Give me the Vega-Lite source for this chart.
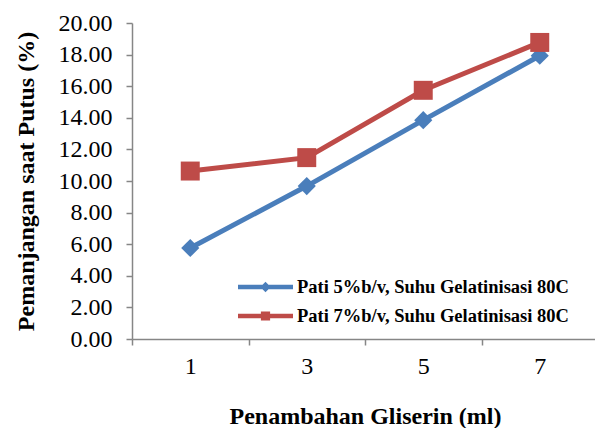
{
  "$schema": "https://vega.github.io/schema/vega-lite/v6.json",
  "autosize": "none",
  "padding": {"left": 132, "top": 23, "right": 0, "bottom": 89},
  "width": 466,
  "height": 316,
  "background": "white",
  "config": {
    "view": {"stroke": null},
    "font": "Liberation Serif, Times New Roman, serif",
    "axis": {
      "domainColor": "#868686",
      "tickColor": "#868686",
      "domainWidth": 1.5,
      "tickWidth": 1.5,
      "tickSize": 6,
      "grid": false,
      "labelColor": "#000000",
      "titleColor": "#000000"
    },
    "legend": {
      "labelFont": "Liberation Serif, Times New Roman, serif",
      "labelFontSize": 18.5,
      "labelFontWeight": "bold",
      "labelColor": "#000000",
      "labelLimit": 0,
      "symbolSize": 400,
      "symbolStrokeWidth": 0,
      "labelOffset": 21.5,
      "rowPadding": 9,
      "padding": 0
    }
  },
  "data": {
    "values": [
      {"ml": "1", "series": "Pati 5%b/v, Suhu Gelatinisasi 80C", "value": 5.76},
      {"ml": "3", "series": "Pati 5%b/v, Suhu Gelatinisasi 80C", "value": 9.68},
      {"ml": "5", "series": "Pati 5%b/v, Suhu Gelatinisasi 80C", "value": 13.85},
      {"ml": "7", "series": "Pati 5%b/v, Suhu Gelatinisasi 80C", "value": 17.93},
      {"ml": "1", "series": "Pati 7%b/v, Suhu Gelatinisasi 80C", "value": 10.63},
      {"ml": "3", "series": "Pati 7%b/v, Suhu Gelatinisasi 80C", "value": 11.48},
      {"ml": "5", "series": "Pati 7%b/v, Suhu Gelatinisasi 80C", "value": 15.74},
      {"ml": "7", "series": "Pati 7%b/v, Suhu Gelatinisasi 80C", "value": 18.77}
    ]
  },
  "encoding": {
    "x": {
      "field": "ml",
      "type": "ordinal",
      "scale": {"type": "band", "paddingInner": 0, "paddingOuter": 0},
      "axis": {
        "title": "Penambahan Gliserin (ml)",
        "labelAngle": 0,
        "tickBand": "extent",
        "labelFont": "Liberation Serif, Times New Roman, serif",
        "labelFontSize": 24,
        "titleFont": "Liberation Serif, Times New Roman, serif",
        "titleFontSize": 24,
        "titleFontWeight": "bold",
        "labelPadding": 9,
        "titlePadding": 26
      }
    },
    "y": {
      "field": "value",
      "type": "quantitative",
      "scale": {"domain": [0, 20], "nice": false},
      "axis": {
        "title": "Pemanjangan saat Putus (%)",
        "values": [0, 2, 4, 6, 8, 10, 12, 14, 16, 18, 20],
        "format": ".2f",
        "labelFont": "Liberation Serif, Times New Roman, serif",
        "labelFontSize": 24,
        "titleFont": "Liberation Serif, Times New Roman, serif",
        "titleFontSize": 24,
        "titleFontWeight": "bold",
        "labelPadding": 14,
        "titlePadding": 20
      }
    },
    "color": {
      "field": "series",
      "type": "nominal",
      "scale": {
        "domain": ["Pati 5%b/v, Suhu Gelatinisasi 80C", "Pati 7%b/v, Suhu Gelatinisasi 80C"],
        "range": ["#4A7EBB", "#BE4B48"]
      },
      "legend": {
        "title": null,
        "orient": "none",
        "legendX": 123.5,
        "legendY": 254,
        "encode": {
          "symbols": {
            "update": {
              "size": {"value": 400},
              "strokeWidth": {"value": 0},
              "fill": {"scale": "color", "field": "value"},
              "opacity": {"value": 1},
              "shape": {"signal": "datum.value === 'Pati 5%b/v, Suhu Gelatinisasi 80C' ? 'M-2.75,-0.23H2.75V0.23H-2.75ZM0,-0.52L0.52,0L0,0.52L-0.52,0Z' : 'M-2.75,-0.23H2.75V0.23H-2.75ZM-0.46,-0.46H0.46V0.46H-0.46Z'"}
            }
          }
        }
      }
    }
  },
  "layer": [
    {
      "mark": {"type": "line", "strokeWidth": 5}
    },
    {
      "transform": [{"filter": "datum.series === 'Pati 5%b/v, Suhu Gelatinisasi 80C'"}],
      "mark": {"type": "point", "filled": true, "opacity": 1, "size": 330, "shape": "diamond"}
    },
    {
      "transform": [{"filter": "datum.series === 'Pati 7%b/v, Suhu Gelatinisasi 80C'"}],
      "mark": {"type": "point", "filled": true, "opacity": 1, "size": 360, "shape": "square"}
    }
  ]
}
